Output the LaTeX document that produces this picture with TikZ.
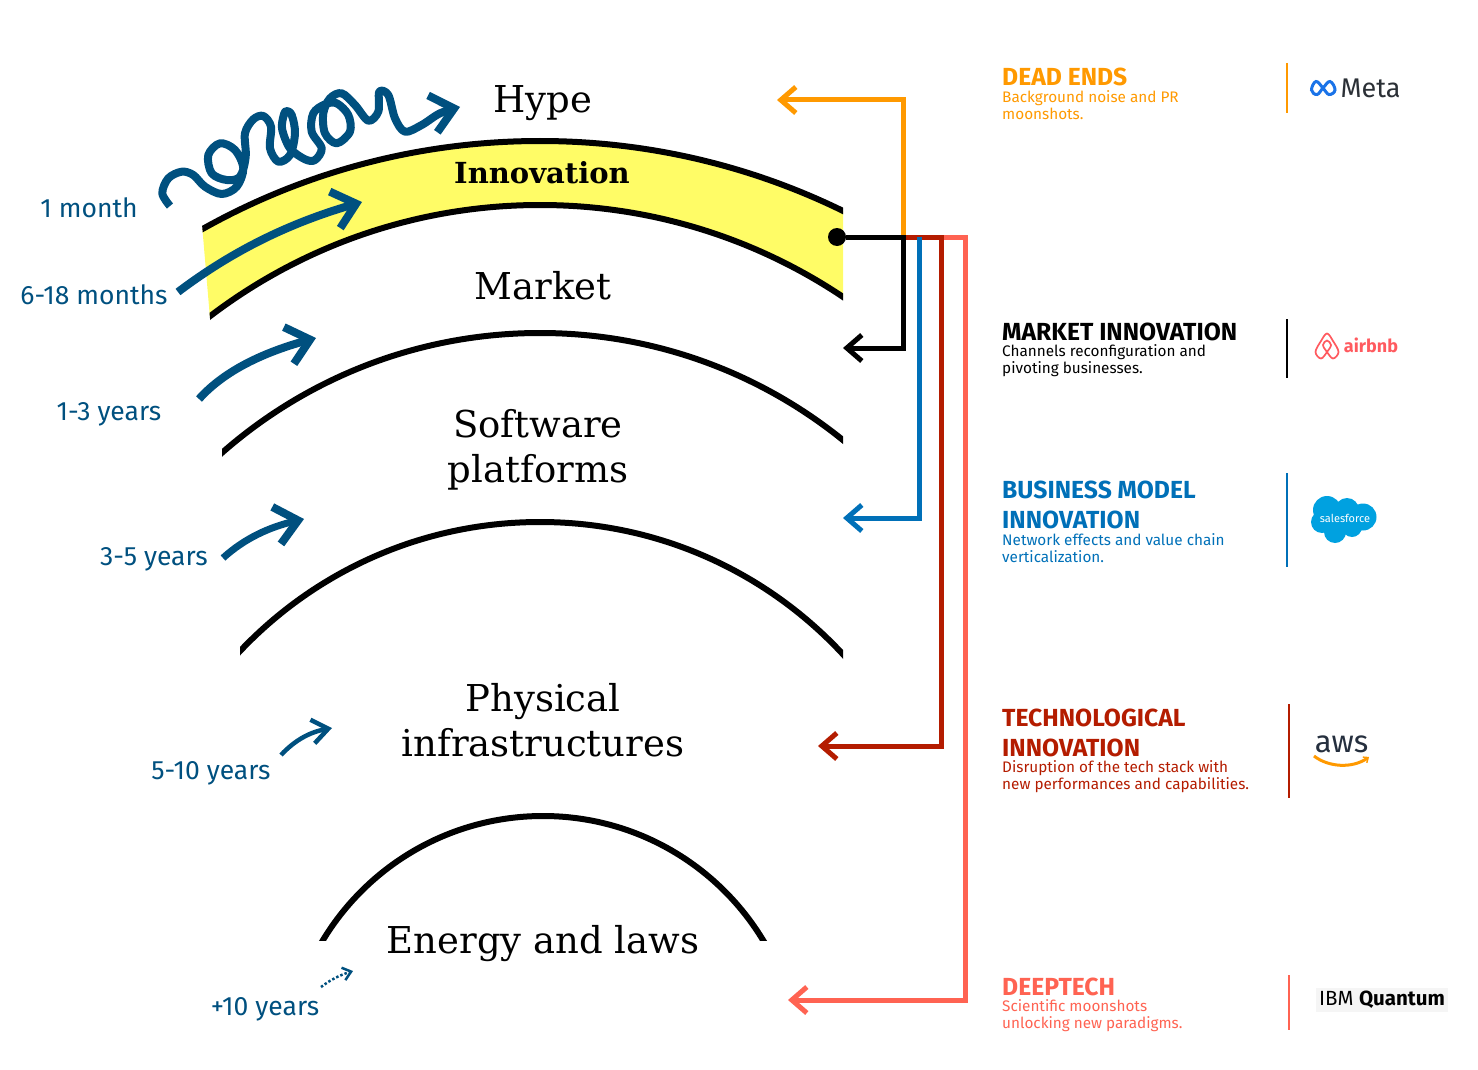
\documentclass[tikz,border=0pt]{standalone}
\usepackage{fontspec}
\setmainfont{Fira Sans}
\newfontfamily\slabfont{DejaVu Serif}
\usetikzlibrary{arrows.meta}

\definecolor{timeblue}{HTML}{00507F}
\definecolor{bandyellow}{HTML}{FFFC66}
\definecolor{deadorange}{HTML}{FF9900}
\definecolor{modelblue}{HTML}{0070B8}
\definecolor{techred}{HTML}{B41C00}
\definecolor{deepcoral}{HTML}{FF6352}
\definecolor{metablue}{HTML}{1A73E8}
\definecolor{metagrey}{HTML}{2B3036}
\definecolor{airbnbred}{HTML}{FF5A5F}
\definecolor{cloudblue}{HTML}{00A1E0}
\definecolor{awsgrey}{HTML}{252F3E}
\definecolor{ibmback}{HTML}{F5F5F5}

\tikzset{
    layerarc/.style={draw=black, line width=6pt},
    layertxt/.style={font=\slabfont\fontsize{37}{45}\selectfont, align=center, inner sep=0pt},
    timetxt/.style={font=\fontsize{26.5}{30}\selectfont, text=timeblue, inner sep=0pt},
    timearrow/.style={draw=timeblue, line width=8pt,
        -{Straight Barb[length=22pt, width=38pt, line width=8pt]}},
    link/.style={line width=5pt, rounded corners=0pt,
        -{Straight Barb[length=15pt, width=26pt, line width=5pt]}},
    headtxt/.style={font=\bfseries\fontsize{24.7}{30}\selectfont, anchor=west, align=left, inner sep=0pt},
    bodytxt/.style={font=\fontsize{15.3}{17}\selectfont, anchor=west, align=left, inner sep=0pt},
    logotxt/.style={inner sep=0pt}
}

\begin{document}
\begin{tikzpicture}[x=1pt, y=-1pt]
    \useasboundingbox (0,0) rectangle (1478,1070);

    % Yellow innovation band between two arcs
    \begin{scope}
        \clip (194,130) -- (843,130) -- (843,330) -- (211,330) -- cycle;
        \fill[bandyellow, even odd rule] (540,831) circle (690pt) (540,750) circle (545pt);
        \draw[layerarc] (540,831) circle (690pt);
        \draw[layerarc] (540,750) circle (545pt);
    \end{scope}

    % Market arc
    \begin{scope}
        \clip (222,300) rectangle (843,470);
        \draw[layerarc] (540,815) circle (482pt);
    \end{scope}

    % Software arc
    \begin{scope}
        \clip (240,500) rectangle (843,670);
        \draw[layerarc] (540,935) circle (413pt);
    \end{scope}

    % Energy arc, cut flat at the bottom
    \begin{scope}
        \clip (300,800) rectangle (780,940);
        \draw[layerarc] (543,1073) circle (257pt);
    \end{scope}

    % Layer names
    \node[layertxt] (hype) at (543,103) {Hype};
    \node[layertxt, font=\slabfont\bfseries\fontsize{29}{30}\selectfont] (innovation) at (542,173) {Innovation};
    \node[layertxt] (market) at (543,286) {Market};
    \node[layertxt] (software) at (538,450) {Software\\platforms};
    \node[layertxt] (physical) at (543,720) {Physical\\infrastructures};
    \node[layertxt] (energy) at (543,944) {Energy and laws};

    % Time scale labels
    \node[timetxt] (onemonth) at (89,208) {1 month};
    \node[timetxt] (months) at (94,295) {6-18 months};
    \node[timetxt] (oneyears) at (109,414) {1-3 years};
    \node[timetxt] (threeyears) at (154,559) {3-5 years};
    \node[timetxt] (fiveyears) at (211,773) {5-10 years};
    \node[timetxt] (tenyears) at (265,1009) {+10 years};

    % Wiggly hype arrow
    \draw[timearrow, line join=round] plot[smooth, tension=0.55] coordinates {
        (170,206) (162.3,193.3) (168.3,178.3) (181.7,171.7) (193.3,175) (205,186.7)
        (221.7,194) (236.7,186.7) (243.3,168.3) (235,150) (220,143.3) (208.3,155)
        (211.7,173.3) (226.7,180) (240,176.7) (245.7,156.7) (245,133.3) (253.3,119.3)
        (263.3,116) (271,126.7) (270,148.3) (278.3,161.7) (290,155) (295,133.3)
        (291.7,115) (286,111) (283,118) (282.3,130) (290,148.3) (305,159.3) (315,160)
        (321.7,148.3) (311.7,131.7) (313.3,113.3) (325,104.3) (336.7,103.3) (348.3,115)
        (350,131.7) (336.7,143.3) (325,133.3) (323.3,113.3) (330,98.3) (341.7,93.3)
        (355,105) (368.3,120.7) (378.3,111.7) (379.3,91.7) (388.3,95) (395,118.3)
        (405,131.7) (421.7,125) (440,113.3) (460,107)};

    % Arrows of the slower layers
    \draw[timearrow] (178,292) .. controls (240,245) and (300,220) .. (362,202);
    \draw[timearrow] (199,399) .. controls (225,370) and (265,352) .. (316,338);
    \draw[timearrow, line width=7pt] (223,558) .. controls (245,538) and (270,527) .. (304,519);
    \draw[draw=timeblue, line width=4.5pt, -{Straight Barb[length=16pt, width=24pt, line width=4.5pt]}]
        (281,755) .. controls (295,740) and (310,732) .. (332,728);
    \draw[draw=timeblue, line width=2.5pt, dotted, -{Straight Barb[length=8pt, width=13pt, line width=2.5pt]}]
        (321,987) .. controls (330,980) and (340,975) .. (353,971);

    % Source dot and branching points
    \node[circle, fill=black, minimum size=18pt, inner sep=0pt] (source) at (837,237) {};
    \coordinate (busorange) at (903,237);
    \coordinate (busblue) at (919,237);
    \coordinate (busred) at (941,237);
    \coordinate (buscoral) at (965,237);

    % Arrow ends
    \coordinate (deadend) at (777,100);
    \coordinate (marketend) at (843,348);
    \coordinate (modelend) at (843,518);
    \coordinate (techend) at (818,746);
    \coordinate (deepend) at (788,1000);

    % Branches from the source, back to front
    \draw[link, deepcoral] (busred) -- (buscoral) |- (deepend);
    \draw[link, techred] (busorange) -- (busred) |- (techend);
    \draw[link, modelblue] (busblue) |- (modelend);
    \draw[link, deadorange] (busorange) |- (deadend);
    \draw[link, black] (source) -- (busorange) |- (marketend);

    % Dead ends text
    \node[headtxt, deadorange] (deadhead) at (1002,77) {DEAD ENDS};
    \node[bodytxt, deadorange] (deadbody) at (1002,105) {Background noise and PR\\moonshots.};
    \draw[deadorange, line width=1.3pt] (1287,63) -- (1287,113);

    % Market innovation text
    \node[headtxt] (markethead) at (1002,332) {MARKET INNOVATION};
    \node[bodytxt] (marketbody) at (1002,360.5) {Channels reconfiguration and\\pivoting businesses.};
    \draw[black, line width=1.3pt] (1287,319) -- (1287,378);

    % Business model text
    \node[headtxt, modelblue] (modelhead) at (1002,505) {BUSINESS MODEL\\INNOVATION};
    \node[bodytxt, modelblue] (modelbody) at (1002,548) {Network effects and value chain\\verticalization.};
    \draw[modelblue, line width=1.3pt] (1287,473) -- (1287,567);

    % Technological text
    \node[headtxt, techred] (techhead) at (1002,733) {TECHNOLOGICAL\\INNOVATION};
    \node[bodytxt, techred] (techbody) at (1002,777) {Disruption of the tech stack with\\new performances and capabilities.};
    \draw[techred, line width=1.3pt] (1289,704) -- (1289,798);

    % Deeptech text
    \node[headtxt, deepcoral] (deephead) at (1002,987) {DEEPTECH};
    \node[bodytxt, deepcoral] (deepbody) at (1002,1016) {Scientific moonshots\\unlocking new paradigms.};
    \draw[deepcoral, line width=1.3pt] (1289,975) -- (1289,1030);

    % Meta logo
    \draw[metablue, line width=3pt] plot[smooth cycle, tension=0.7] coordinates {
        (1311.5,90) (1316,81.5) (1323,88) (1329,94.5) (1335,90) (1330,81.5) (1323,88) (1317,94.5)};
    \node[logotxt, text=metagrey, font=\fontsize{27}{27}\selectfont] (meta) at (1370.5,88) {Meta};

    % Airbnb logo
    \draw[airbnbred, line width=1.7pt] plot[smooth cycle, tension=0.6] coordinates {
        (1327,333.5) (1333,341) (1338.5,352) (1333,358.5) (1327,352) (1323,345) (1327,340.5)
        (1331,345) (1327,352) (1321,358.5) (1315.5,352) (1321,341)};
    \node[logotxt, text=airbnbred, font=\bfseries\fontsize{18}{18}\selectfont] (airbnb) at (1371,345) {airbnb};

    % Salesforce logo
    \fill[cloudblue] (1327,510) circle (14pt) (1347,510) circle (12pt)
        (1363,517) circle (13.5pt) (1335,532) circle (11pt) (1352,527) circle (10pt) (1322,522) circle (11pt)
        (1345,520) circle (14pt);
    \node[logotxt, text=white, font=\fontsize{11}{11}\selectfont] (salesforce) at (1345,518) {salesforce};

    % AWS logo
    \node[logotxt, text=awsgrey, font=\fontsize{31}{31}\selectfont] (aws) at (1341.5,744) {aws};
    \draw[deadorange, line width=3pt, -{Straight Barb[length=4pt, width=7pt, line width=1.5pt]}]
        (1314,756) .. controls (1328,767) and (1352,769) .. (1369,757);

    % IBM Quantum logo
    \node[logotxt, fill=ibmback, minimum width=132pt, minimum height=24pt,
        font=\fontsize{20.5}{21}\selectfont] (ibm) at (1382,1000) {IBM \textbf{Quantum}};
\end{tikzpicture}
\end{document}
